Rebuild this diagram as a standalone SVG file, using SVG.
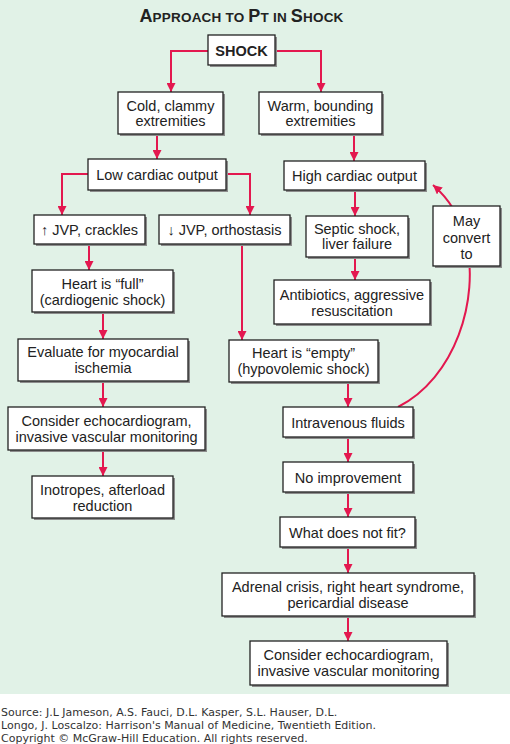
<svg xmlns="http://www.w3.org/2000/svg" width="510" height="744" viewBox="0 0 510 744">
<defs>
<style>
.bx{fill:#fff;stroke:#222;stroke-width:1.3}
.sh{fill:#8c8c8c}
.t{font-family:"Liberation Sans",Arial,sans-serif;font-size:14.5px;fill:#222;text-anchor:middle}
.c{fill:none;stroke:#e3184f;stroke-width:2}
.ft{font-family:"DejaVu Sans",Verdana,sans-serif;font-size:11px;fill:#333}
</style>
<marker id="ah" viewBox="0 0 10 10" refX="10" refY="5" markerWidth="4.5" markerHeight="4.5" orient="auto" markerUnits="strokeWidth">
<path d="M0,0 L10,5 L0,10 z" fill="#e3184f"/>
</marker>
</defs>
<rect x="0" y="0" width="510" height="694" fill="#e1f2e7"/>
<text x="241.5" y="22" font-family="'Liberation Sans',Arial,sans-serif" font-weight="bold" fill="#222" text-anchor="middle" letter-spacing="0.2"><tspan font-size="18">A</tspan><tspan font-size="13.5">PPROACH TO </tspan><tspan font-size="18">P</tspan><tspan font-size="13.5">T IN </tspan><tspan font-size="18">S</tspan><tspan font-size="13.5">HOCK</tspan></text>

<g id="connectors">
<path class="c" d="M208,51 H171 V92" marker-end="url(#ah)"/>
<path class="c" d="M275,51 H321 V92" marker-end="url(#ah)"/>
<path class="c" d="M157,134 V159" marker-end="url(#ah)"/>
<path class="c" d="M354,134 V161" marker-end="url(#ah)"/>
<path class="c" d="M88,174 H62 V215" marker-end="url(#ah)"/>
<path class="c" d="M226,174 H250 V215" marker-end="url(#ah)"/>
<path class="c" d="M355,190 V216" marker-end="url(#ah)"/>
<path class="c" d="M89,244 V270" marker-end="url(#ah)"/>
<path class="c" d="M242,244 V340" marker-end="url(#ah)"/>
<path class="c" d="M355,257 V280" marker-end="url(#ah)"/>
<path class="c" d="M103,312 V339" marker-end="url(#ah)"/>
<path class="c" d="M103,381 V407" marker-end="url(#ah)"/>
<path class="c" d="M103,450 V476" marker-end="url(#ah)"/>
<path class="c" d="M348,382 V407" marker-end="url(#ah)"/>
<path class="c" d="M348,437 V462" marker-end="url(#ah)"/>
<path class="c" d="M348,492 V517" marker-end="url(#ah)"/>
<path class="c" d="M348,547 V573" marker-end="url(#ah)"/>
<path class="c" d="M348,616 V641" marker-end="url(#ah)"/>
<path class="c" d="M398,407 C455,378 480,300 466,240 C460,215 448,198 433,185" marker-end="url(#ah)"/>
</g>

<g id="shock"><rect class="sh" x="210" y="37" width="67" height="30"/><rect class="bx" x="208" y="35" width="67" height="30"/><text class="t" x="241.5" y="56" font-weight="bold" font-size="15">SHOCK</text></g>
<g id="cold"><rect class="sh" x="120" y="94" width="105" height="42"/><rect class="bx" x="118" y="92" width="105" height="42"/><text class="t" x="170.5" y="111">Cold, clammy</text><text class="t" x="170.5" y="126">extremities</text></g>
<g id="warm"><rect class="sh" x="261" y="94" width="123" height="42"/><rect class="bx" x="259" y="92" width="123" height="42"/><text class="t" x="320.5" y="111">Warm, bounding</text><text class="t" x="320.5" y="126">extremities</text></g>
<g id="low"><rect class="sh" x="90" y="161" width="138" height="31"/><rect class="bx" x="88" y="159" width="138" height="31"/><text class="t" x="157" y="180">Low cardiac output</text></g>
<g id="high"><rect class="sh" x="286" y="163" width="141" height="29"/><rect class="bx" x="284" y="161" width="141" height="29"/><text class="t" x="354.5" y="181">High cardiac output</text></g>
<g id="upjvp"><rect class="sh" x="36" y="217" width="111" height="29"/><rect class="bx" x="34" y="215" width="111" height="29"/><text class="t" x="89.5" y="235">↑ JVP, crackles</text></g>
<g id="downjvp"><rect class="sh" x="161" y="217" width="131" height="29"/><rect class="bx" x="159" y="215" width="131" height="29"/><text class="t" x="224.5" y="235">↓ JVP, orthostasis</text></g>
<g id="septic"><rect class="sh" x="308" y="218" width="102" height="41"/><rect class="bx" x="306" y="216" width="102" height="41"/><text class="t" x="357" y="234">Septic shock,</text><text class="t" x="357" y="249">liver failure</text></g>
<g id="may"><rect class="sh" x="435" y="208" width="67" height="60"/><rect class="bx" x="433" y="206" width="67" height="60"/><text class="t" x="466.5" y="226">May</text><text class="t" x="466.5" y="243">convert</text><text class="t" x="466.5" y="259">to</text></g>
<g id="antibiotics"><rect class="sh" x="276" y="282" width="156" height="44"/><rect class="bx" x="274" y="280" width="156" height="44"/><text class="t" x="352" y="300">Antibiotics, aggressive</text><text class="t" x="352" y="316">resuscitation</text></g>
<g id="full"><rect class="sh" x="34" y="272" width="141" height="42"/><rect class="bx" x="32" y="270" width="141" height="42"/><text class="t" x="102.5" y="289">Heart is “full”</text><text class="t" x="102.5" y="305">(cardiogenic shock)</text></g>
<g id="evaluate"><rect class="sh" x="20" y="341" width="170" height="42"/><rect class="bx" x="18" y="339" width="170" height="42"/><text class="t" x="103" y="357">Evaluate for myocardial</text><text class="t" x="103" y="373">ischemia</text></g>
<g id="echoL"><rect class="sh" x="10" y="409" width="197" height="43"/><rect class="bx" x="8" y="407" width="197" height="43"/><text class="t" x="106.5" y="426">Consider echocardiogram,</text><text class="t" x="106.5" y="442">invasive vascular monitoring</text></g>
<g id="inotropes"><rect class="sh" x="34" y="478" width="141" height="42"/><rect class="bx" x="32" y="476" width="141" height="42"/><text class="t" x="102.5" y="495">Inotropes, afterload</text><text class="t" x="102.5" y="511">reduction</text></g>
<g id="empty"><rect class="sh" x="231" y="342" width="149" height="42"/><rect class="bx" x="229" y="340" width="149" height="42"/><text class="t" x="303.5" y="358">Heart is “empty”</text><text class="t" x="303.5" y="374">(hypovolemic shock)</text></g>
<g id="iv"><rect class="sh" x="285" y="409" width="130" height="30"/><rect class="bx" x="283" y="407" width="130" height="30"/><text class="t" x="348" y="428">Intravenous fluids</text></g>
<g id="noimp"><rect class="sh" x="285" y="464" width="130" height="30"/><rect class="bx" x="283" y="462" width="130" height="30"/><text class="t" x="348" y="483">No improvement</text></g>
<g id="fit"><rect class="sh" x="282" y="519" width="135" height="30"/><rect class="bx" x="280" y="517" width="135" height="30"/><text class="t" x="347.5" y="538">What does not fit?</text></g>
<g id="adrenal"><rect class="sh" x="224" y="575" width="252" height="43"/><rect class="bx" x="222" y="573" width="252" height="43"/><text class="t" x="348" y="592">Adrenal crisis, right heart syndrome,</text><text class="t" x="348" y="608">pericardial disease</text></g>
<g id="echoR"><rect class="sh" x="252" y="643" width="197" height="44"/><rect class="bx" x="250" y="641" width="197" height="44"/><text class="t" x="348.5" y="660">Consider echocardiogram,</text><text class="t" x="348.5" y="676">invasive vascular monitoring</text></g>

<text class="ft" x="1" y="716">Source: J.L Jameson, A.S. Fauci, D.L. Kasper, S.L. Hauser, D.L.</text>
<text class="ft" x="1" y="729">Longo, J. Loscalzo: Harrison's Manual of Medicine, Twentieth Edition.</text>
<text class="ft" x="1" y="742">Copyright © McGraw-Hill Education. All rights reserved.</text>
</svg>
